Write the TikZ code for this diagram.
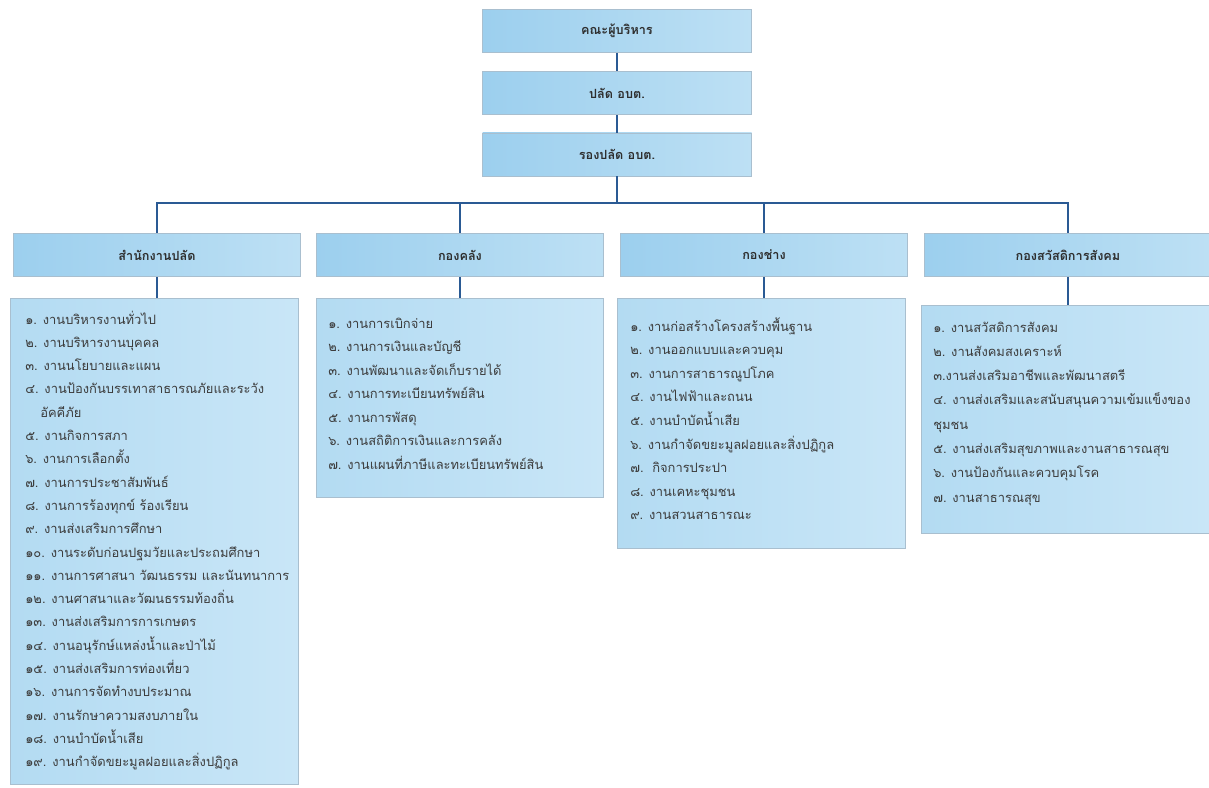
\documentclass[tikz,border=0pt]{standalone}
\usepackage{fontspec}
\newfontfamily\thai[Script=Thai]{Loma}
\definecolor{linec}{HTML}{2A5A94}
\definecolor{boxl}{HTML}{9CCFEE}
\definecolor{boxm}{HTML}{E4F2FB}
\definecolor{boxr}{HTML}{BDE0F4}
\definecolor{listl}{HTML}{B3DBF2}
\definecolor{listm}{HTML}{EAF5FC}
\definecolor{listr}{HTML}{C9E6F7}
\definecolor{bordc}{HTML}{A9BFCF}
\definecolor{txtc}{HTML}{2E2E2E}
\definecolor{itemc}{HTML}{3C3C3C}
\tikzset{
  headbox/.style={draw=bordc, line width=0.5pt, left color=boxl, middle color=boxm, right color=boxr,
     minimum width=#1*0.75pt, minimum height=43*0.75pt, inner sep=0pt,
     font=\thai\bfseries\fontsize{9.5}{11}\selectfont, text=txtc},
  listbox/.style={draw=bordc, line width=0.5pt, left color=listl, middle color=listm, right color=listr, inner sep=0pt},
  item/.style={anchor=base west, inner sep=0pt, font=\thai\fontsize{9.7}{11}\selectfont, text=itemc},
  conn/.style={draw=linec, line width=1.1pt},
}
\begin{document}
\begin{tikzpicture}[x=0.75pt,y=-0.75pt]
\useasboundingbox[fill=white] (0,0) rectangle (1209,788);
% top chain
\node[headbox=269] (exec) at (617,31) {คณะผู้บริหาร};
\node[headbox=269] (palad) at (617,93) {ปลัด อบต.};
\node[headbox=269] (rong) at (617,154.5) {รองปลัด อบต.};
% divisions
\node[headbox=287] (d1) at (157,255) {สำนักงานปลัด};
\node[headbox=287] (d2) at (460,255) {กองคลัง};
\node[headbox=287] (d3) at (764,255) {กองช่าง};
\node[headbox=288] (d4) at (1068,255) {กองสวัสดิการสังคม};
% list boxes
\node[listbox, minimum width=288*0.75pt, minimum height=486*0.75pt] (l1) at (154,541) {};
\node[listbox, minimum width=287*0.75pt, minimum height=199*0.75pt] (l2) at (459.5,397.5) {};
\node[listbox, minimum width=288*0.75pt, minimum height=250*0.75pt] (l3) at (761,423) {};
\node[listbox, minimum width=290*0.75pt, minimum height=228*0.75pt] (l4) at (1066,419) {};
% connectors
\coordinate (bar) at (617,203);
\draw[conn] (exec.south) -- (palad.north);
\draw[conn] (palad.south) -- (rong.north);
\draw[conn] (rong.south) -- (bar);
\draw[conn] (bar) -| (d1.north);
\draw[conn] (bar) -| (d2.north);
\draw[conn] (bar) -| (d3.north);
\draw[conn] (bar) -| (d4.north);
\draw[conn] (d1.south) -- (d1.south |- l1.north);
\draw[conn] (d2.south) -- (d2.south |- l2.north);
\draw[conn] (d3.south) -- (d3.south |- l3.north);
\draw[conn] (d4.south) -- (d4.south |- l4.north);
% items: office
\foreach \t [count=\i] in {%
  ๑. งานบริหารงานทั่วไป,
  ๒. งานบริหารงานบุคคล,
  ๓. งานนโยบายและแผน,
  ๔. งานป้องกันบรรเทาสาธารณภัยและระวัง,
  {},
  ๕. งานกิจการสภา,
  ๖. งานการเลือกตั้ง,
  ๗. งานการประชาสัมพันธ์,
  ๘. งานการร้องทุกข์ ร้องเรียน,
  ๙. งานส่งเสริมการศึกษา,
  ๑๐. งานระดับก่อนปฐมวัยและประถมศึกษา,
  ๑๑. งานการศาสนา วัฒนธรรม และนันทนาการ,
  ๑๒. งานศาสนาและวัฒนธรรมท้องถิ่น,
  ๑๓. งานส่งเสริมการการเกษตร,
  ๑๔. งานอนุรักษ์แหล่งน้ำและป่าไม้,
  ๑๕. งานส่งเสริมการท่องเที่ยว,
  ๑๖. งานการจัดทำงบประมาณ,
  ๑๗. งานรักษาความสงบภายใน,
  ๑๘. งานบำบัดน้ำเสีย,
  ๑๙. งานกำจัดขยะมูลฝอยและสิ่งปฏิกูล}
  \node[item] (a\i) at (25,{324+(\i-1)*23.3}) {\t};
\node[item] (a5b) at (40,417.2) {อัคคีภัย};
% items: finance
\foreach \t [count=\i] in {%
  ๑. งานการเบิกจ่าย,
  ๒. งานการเงินและบัญชี,
  ๓. งานพัฒนาและจัดเก็บรายได้,
  ๔. งานการทะเบียนทรัพย์สิน,
  ๕. งานการพัสดุ,
  ๖. งานสถิติการเงินและการคลัง,
  ๗. งานแผนที่ภาษีและทะเบียนทรัพย์สิน}
  \node[item] (b\i) at (328,{328+(\i-1)*23.5}) {\t};
% items: engineering
\foreach \t [count=\i] in {%
  ๑. งานก่อสร้างโครงสร้างพื้นฐาน,
  ๒. งานออกแบบและควบคุม,
  ๓. งานการสาธารณูปโภค,
  ๔. งานไฟฟ้าและถนน,
  ๕. งานบำบัดน้ำเสีย,
  ๖. งานกำจัดขยะมูลฝอยและสิ่งปฏิกูล,
  ๗.\ \ กิจการประปา,
  ๘. งานเคหะชุมชน,
  ๙. งานสวนสาธารณะ}
  \node[item] (c\i) at (630,{331+(\i-1)*23.6}) {\t};
% items: welfare
\foreach \t [count=\i] in {%
  ๑. งานสวัสดิการสังคม,
  ๒. งานสังคมสงเคราะห์,
  ๓.งานส่งเสริมอาชีพและพัฒนาสตรี,
  ๔. งานส่งเสริมและสนับสนุนความเข้มแข็งของ,
  ชุมชน,
  ๕. งานส่งเสริมสุขภาพและงานสาธารณสุข,
  ๖. งานป้องกันและควบคุมโรค,
  ๗. งานสาธารณสุข}
  \node[item] (e\i) at (933,{332+(\i-1)*24.3}) {\t};
\end{tikzpicture}
\end{document}
